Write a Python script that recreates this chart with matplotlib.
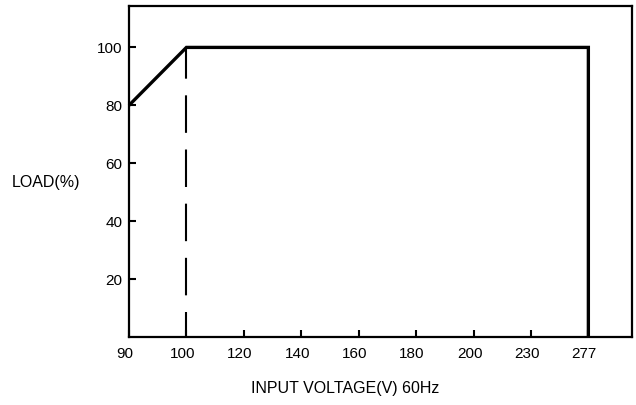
import matplotlib
matplotlib.use("Agg")
import matplotlib.pyplot as plt
import matplotlib.transforms as mtransforms

# data
voltage_ticks = ["90", "100", "120", "140", "160", "180", "200", "230", "277"]
curve_voltage = ["90", "100", "277", "277"]
curve_load = [80, 100, 100, 0]
derate_voltage = ["100", "100"]
derate_load = [0, 100]
load_ticks = [20, 40, 60, 80, 100]

plt.rcParams["font.family"] = ["Liberation Sans", "DejaVu Sans"]

fig = plt.figure(figsize=(6.36, 4.05), dpi=100)
ax = fig.add_axes([129 / 636, 1 - 337 / 405, 503 / 636, 331 / 405])

pos = {v: i for i, v in enumerate(voltage_ticks)}

ax.plot([pos[v] for v in curve_voltage], curve_load, color="black", lw=2.4,
        solid_joinstyle="miter", solid_capstyle="butt", clip_on=False)
ax.plot([pos[v] for v in derate_voltage], derate_load, color="black", lw=1.5,
        linestyle=(6, (18, 8)), dash_capstyle="butt", clip_on=False)

ax.set_xlim(0, 8.76)
ax.set_ylim(0, 114.3)
ax.set_xticks(range(len(voltage_ticks)))
ax.set_xticklabels(voltage_ticks)
ax.set_yticks(load_ticks)

ax.tick_params(axis="x", direction="in", length=5, width=1.5, pad=7.5,
               labelsize=11)
ax.tick_params(axis="y", direction="in", length=5, width=1.5, pad=4.5,
               labelsize=11)
for s in ax.spines.values():
    s.set_linewidth(1.6)

# x labels sit slightly left of their ticks in the original
shift = mtransforms.ScaledTranslation(-4 / 100, 0, fig.dpi_scale_trans)
for lbl in ax.get_xticklabels():
    lbl.set_transform(lbl.get_transform() + shift)

fig.text(12 / 636, 1 - 182 / 405, "LOAD(%)", fontsize=11.5, ha="left",
         va="center")
fig.text(345 / 636, 1 - 389 / 405, "INPUT VOLTAGE(V) 60Hz", fontsize=11.5,
         ha="center", va="center")

plt.savefig("out.png", dpi=100)
